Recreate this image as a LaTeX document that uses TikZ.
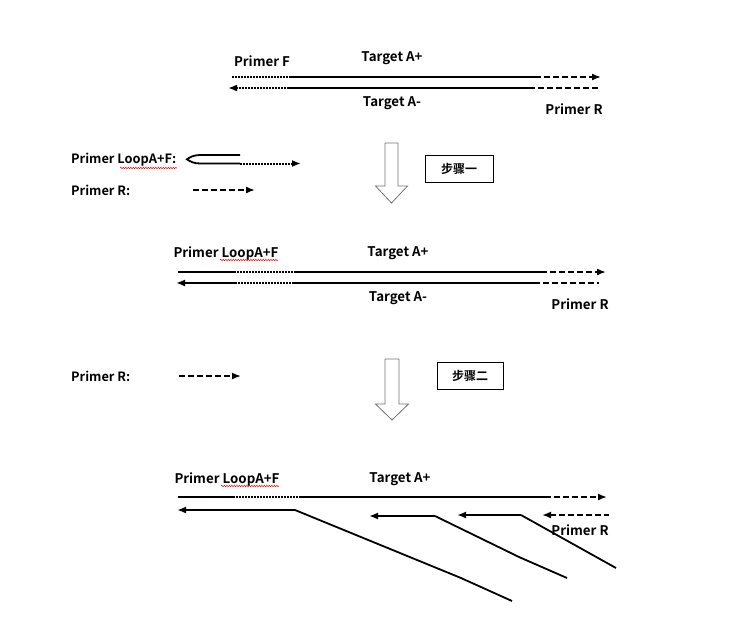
\documentclass[tikz,border=0pt]{standalone}
\usepackage{fontspec}
\setmainfont{Noto Sans CJK SC}[BoldFont={Noto Sans CJK SC Bold}]
\usetikzlibrary{arrows.meta,decorations.pathmorphing}
\tikzset{
  strand/.style={line width=2pt},
  dotline/.style={line width=2pt,dash pattern=on 1.6pt off 1.4pt},
  dashline/.style={line width=1.7pt,dash pattern=on 6pt off 3pt},
  tip/.style={-{Latex[length=9pt,width=7pt]}},
  ltip/.style={{Latex[length=9pt,width=7pt]}-},
  lbl/.style={font=\bfseries\fontsize{13.3}{13.3}\selectfont,inner sep=0pt},
  squig/.style={red,line width=0.5pt,decorate,decoration={snake,amplitude=0.7pt,segment length=2.5pt}},
  hollow/.style={draw=black!55,fill=white,line width=0.8pt},
  stepbox/.style={draw,line width=0.8pt,minimum width=68pt,minimum height=27pt,inner sep=0pt,font=\bfseries\fontsize{12}{12}\selectfont}
}
\begin{document}
\begin{tikzpicture}[x=1pt,y=-1pt]
\useasboundingbox (0,0) rectangle (751,638);
% ---------- section 1 ----------
\node[lbl] (pf1) at (262,61) {Primer F};
\node[lbl] (ta1) at (392,58) {Target A+};
\node[lbl] (tm1) at (392,103) {Target A-};
\node[lbl] (pr1) at (574,109) {Primer R};
\coordinate (a1) at (232,77); \coordinate (a2) at (290,77);
\coordinate (a3) at (535,77); \coordinate (a4) at (601,77);
\draw[dotline] (a1) -- (a2);
\draw[strand] (a2) -- (a3);
\draw[dashline,tip] (a3) -- (a4);
\coordinate (b1) at (228,88); \coordinate (b2) at (288,88);
\coordinate (b3) at (535,88); \coordinate (b4) at (538,88); \coordinate (b5) at (599,88);
\draw[dotline,ltip] (b1) -- (b2);
\draw[strand] (b2) -- (b3);
\draw[dashline] (b4) -- (b5);
% ---------- section 2 ----------
\node[lbl,anchor=west,font=\bfseries\fontsize{12.8}{12.8}\selectfont] (plf2) at (71,160) {Primer LoopA+F:};
\draw[squig] (120,168) -- (177,168);
\node[lbl,anchor=west,font=\bfseries\fontsize{12.8}{12.8}\selectfont] (pr2) at (71,190) {Primer R:};
\coordinate (l1) at (240,155); \coordinate (l2) at (240,163.5); \coordinate (l3) at (301,163.5);
\draw[line width=1.8pt,line join=miter] (l1) -- (200,155) .. controls (194,155) and (190,157) .. (187,159.3)
  .. controls (190,161.5) and (194,163.5) .. (200,163.5) -- (l2);
\draw[dotline,tip] (l2) -- (l3);
\coordinate (r1) at (193,190); \coordinate (r2) at (255,190);
\draw[dashline,tip] (r1) -- (r2);
\draw[hollow] (385,143) -- (398,143) -- (398,186) -- (407.5,186) -- (391.5,203) -- (375.5,186) -- (385,186) -- cycle;
\node[stepbox] (s1) at (459,168.5) {步骤一};
% ---------- section 3 ----------
\node[lbl] (plf3) at (226,254) {Primer LoopA+F};
\draw[squig] (220,260) -- (278,260);
\node[lbl] (ta3) at (398,253) {Target A+};
\node[lbl] (tm3) at (398,298) {Target A-};
\node[lbl] (pr3) at (580,304) {Primer R};
\coordinate (c1) at (178,272); \coordinate (c2) at (234,272); \coordinate (c3) at (295,272);
\coordinate (c4) at (541,272); \coordinate (c5) at (606,272);
\draw[strand] (c1) -- (c2);
\draw[dotline] (c2) -- (c3);
\draw[strand] (c3) -- (c4);
\draw[dashline,tip] (c4) -- (c5);
\coordinate (d1) at (176,283); \coordinate (d2) at (235,283); \coordinate (d3) at (293,283);
\coordinate (d4) at (540,283); \coordinate (d5) at (543,283); \coordinate (d6) at (599,283);
\draw[strand,ltip] (d1) -- (d2);
\draw[dotline] (d2) -- (d3);
\draw[strand] (d3) -- (d4);
\draw[dashline] (d5) -- (d6);
% ---------- section 4 ----------
\node[lbl,anchor=west,font=\bfseries\fontsize{12.8}{12.8}\selectfont] (pr4) at (71,376) {Primer R:};
\coordinate (e1) at (179,376); \coordinate (e2) at (241,376);
\draw[dashline,tip] (e1) -- (e2);
\draw[hollow] (385,359) -- (399,359) -- (399,404) -- (408.5,404) -- (392,420) -- (375.5,404) -- (385,404) -- cycle;
\node[stepbox,minimum width=66pt] (s2) at (470,375.5) {步骤二};
% ---------- section 5 ----------
\node[lbl] (plf5) at (227,480) {Primer LoopA+F};
\draw[squig] (221,486) -- (279,486);
\node[lbl] (ta5) at (400,479) {Target A+};
\node[lbl] (pr5) at (580,530) {Primer R};
\coordinate (f1) at (178,497); \coordinate (f2) at (233,497); \coordinate (f3) at (300,497);
\coordinate (f4) at (545,497); \coordinate (f5) at (607,497);
\draw[strand] (f1) -- (f2);
\draw[dotline] (f2) -- (f3);
\draw[strand] (f3) -- (f4);
\draw[dashline,tip] (f4) -- (f5);
\coordinate (g1) at (177,510); \coordinate (g2) at (295,510); \coordinate (g3) at (461,578); \coordinate (g4) at (512,601);
\draw[strand,ltip] (g1) -- (g2);
\draw[line width=1.8pt,line join=round] (g2) -- (g3) -- (g4);
\coordinate (h1) at (369,516); \coordinate (h2) at (435,516); \coordinate (h3) at (519,557); \coordinate (h4) at (567,578);
\draw[strand,ltip] (h1) -- (h2);
\draw[line width=1.8pt,line join=round] (h2) -- (h3) -- (h4);
\coordinate (i1) at (457,515); \coordinate (i2) at (521,515); \coordinate (i3) at (616,568);
\draw[strand,ltip] (i1) -- (i2);
\draw[line width=1.8pt] (i2) -- (i3);
\coordinate (j1) at (542,515); \coordinate (j2) at (609,515);
\draw[dashline,ltip] (j1) -- (j2);
\end{tikzpicture}
\end{document}
